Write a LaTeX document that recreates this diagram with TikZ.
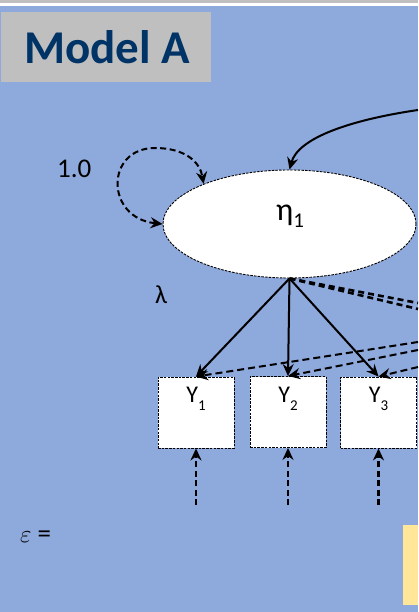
\documentclass[tikz,border=0pt]{standalone}
\usepackage{fontspec}
\setmainfont{Carlito}
\usetikzlibrary{shapes.geometric,arrows.meta}
\definecolor{bgblue}{HTML}{8EA9DB}
\definecolor{titlegray}{HTML}{BFBFBF}
\definecolor{navy}{HTML}{003366}
\definecolor{pale}{HTML}{FFE699}
\newcommand\mysub[3]{\raisebox{-#2}{\fontsize{#1}{#1}\selectfont #3}}
\tikzset{
  tip/.style={-{Stealth[length=12pt,width=11pt,inset=4pt]}},
  boxy/.style={draw=black, fill=white, line width=0.9pt, dash pattern=on 2.5pt off 1.2pt, minimum width=76pt, minimum height=71pt, inner sep=0pt},
  lbl/.style={inner sep=0pt, font=\fontsize{24}{26}\selectfont, anchor=base},
  solidarr/.style={tip, line width=2pt},
  dasharr/.style={tip, line width=2pt, dash pattern=on 7pt off 4pt},
  loaddash/.style={line width=2.6pt, dash pattern=on 6pt off 4pt},
  errarr/.style={tip, line width=2.4pt, dash pattern=on 6pt off 3.5pt},
}
\begin{document}
\begin{tikzpicture}[x=1pt,y=-1pt]
\useasboundingbox (0,0) rectangle (418,612);
\fill[bgblue] (0,0) rectangle (418,612);
\fill[titlegray] (0,0) rectangle (418,3);
\fill[white] (0,3) rectangle (418,6);
% title
\node[fill=titlegray, minimum width=210pt, minimum height=70pt, inner sep=0pt] (titlebox) at (106,47) {};
\node[anchor=base west, inner sep=0pt, text=navy, font=\fontsize{47}{50}\selectfont\bfseries] (title) at (24,64) {Model A};
% yellow box
\fill[pale] (403,525) rectangle (418,605);
% latent
\node[ellipse, draw=black, fill=white, line width=0.9pt, dash pattern=on 2.5pt off 1.2pt, minimum width=253pt, minimum height=108pt, inner sep=0pt] (eta) at (289.5,224) {};
\node[lbl, font=\fontsize{32}{34}\selectfont] (etal) at (290,220) {η\mysub{21}{7pt}{1}};
% boxes
\node[boxy] (y1) at (196,412.5) {};
\node[boxy] (y2) at (288,412) {};
\node[boxy] (y3) at (378.5,412.5) {};
\node[lbl] (y1l) at (196,402) {Y\mysub{15}{8pt}{1}};
\node[lbl] (y2l) at (288,402) {Y\mysub{15}{8pt}{2}};
\node[lbl] (y3l) at (378.5,402) {Y\mysub{15}{8pt}{3}};
% texts
\node[anchor=base west, inner sep=0pt, font=\fontsize{27}{30}\selectfont] (one) at (57,178) {1.0};
\node[anchor=base west, inner sep=0pt, font=\fontsize{26}{28}\selectfont] (lam) at (155,303) {λ};
\node[anchor=base west, inner sep=0pt, font=\fontsize{27}{30}\selectfont] (eps) at (20,542) {{\fontsize{33}{34}\selectfont$\varepsilon$} =};
% coordinates
\coordinate (topin) at (418,110);
\coordinate (r1) at (418,342);
\coordinate (r2) at (418,350);
\coordinate (r3) at (418,367);
\coordinate (t1) at (418,303);
\coordinate (t2) at (418,309);
\coordinate (e1) at (196,505);
\coordinate (e2) at (288,505);
\coordinate (e3) at (378.5,505);
% curved incoming arrow
\draw[solidarr] (topin) .. controls (350,120) and (298,138) .. (eta.north);
% self loop
\draw[{Stealth[length=12pt,width=11pt,inset=4pt]}-{Stealth[length=12pt,width=11pt,inset=4pt]}, line width=2pt, dash pattern=on 6pt off 3.5pt]
  (eta.west) .. controls (105,218) and (105,148) .. (155,148) .. controls (185,148) and (200,162) .. (eta.155);
% loadings dashed to right
\draw[loaddash] (eta.south) -- (t1);
\draw[loaddash] (eta.south) -- (t2);
% dashed lines from right into boxes
\draw[dasharr] (r1) -- (y1.north);
\draw[dasharr] (r2) -- (y2.north);
\draw[dasharr] (r3) -- (y3.north);
% solid loadings
\draw[solidarr] (eta.south) -- (y1.north);
\draw[solidarr] (eta.south) -- (y2.north);
\draw[solidarr] (eta.south) -- (y3.north);
% errors
\draw[errarr] (e1) -- (y1.south);
\draw[errarr] (e2) -- (y2.south);
\draw[errarr] (e3) -- (y3.south);
\end{tikzpicture}
\end{document}
